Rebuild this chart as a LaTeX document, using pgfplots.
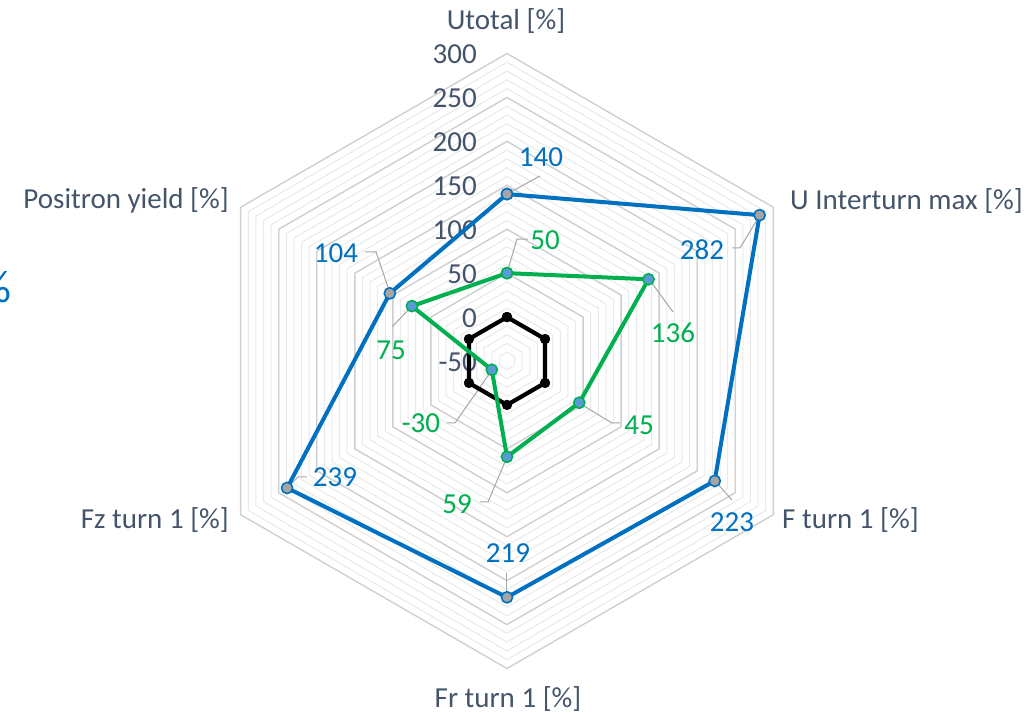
\documentclass[border=0pt]{standalone}
\usepackage{pgfplots}
\pgfplotsset{compat=1.18}
\usepackage{pgfplotstable}
\usepackage{fontspec}
\setmainfont{Carlito}
\definecolor{txt}{HTML}{44546A}
\definecolor{sblue}{HTML}{0070C0}
\definecolor{sgreen}{HTML}{00B050}
\definecolor{mgray}{HTML}{A5A5A5}
\definecolor{mblue}{HTML}{5B9BD5}
\definecolor{gmaj}{HTML}{D0D0D0}
\definecolor{gmin}{HTML}{E9E9E9}
\definecolor{lead}{HTML}{A6A6A6}
\newcommand\pp[2]{(axis cs:{(#1-507)/0.87857},{(361-#2)/0.87857})}

\pgfplotstableread{
a v
90 140
30 282
-30 223
-90 219
-150 239
150 104
90 140
}\tblue
\pgfplotstableread{
a v
90 50
30 136
-30 45
-90 59
-150 -30
150 75
90 50
}\tgreen
\pgfplotstableread{
a v
90 0
30 0
-30 0
-90 0
-150 0
150 0
90 0
}\tblack

\begin{document}
\begin{tikzpicture}
\useasboundingbox (0,0) rectangle (1031bp,715bp);
\begin{axis}[at={(0,0)},anchor=south west,hide axis,scale only axis,
  x=0.87857bp,y=0.87857bp,xmin=-577.07,xmax=596.35,ymin=-402.93,ymax=410.89,clip=false]
% minor rings
\pgfplotsinvokeforeach{10,20,...,340}{
  \draw[gmin,line width=1bp] (axis cs:0,#1) -- (axis cs:{0.866025*#1},{0.5*#1}) -- (axis cs:{0.866025*#1},{-0.5*#1}) -- (axis cs:0,-#1) -- (axis cs:{-0.866025*#1},{-0.5*#1}) -- (axis cs:{-0.866025*#1},{0.5*#1}) -- cycle;
}
% major rings
\pgfplotsinvokeforeach{50,100,...,350}{
  \draw[gmaj,line width=1.4bp] (axis cs:0,#1) -- (axis cs:{0.866025*#1},{0.5*#1}) -- (axis cs:{0.866025*#1},{-0.5*#1}) -- (axis cs:0,-#1) -- (axis cs:{-0.866025*#1},{-0.5*#1}) -- (axis cs:{-0.866025*#1},{0.5*#1}) -- cycle;
}
% tick labels
\pgfplotsinvokeforeach{-50,0,...,300}{
  \node[anchor=base east,inner sep=0pt,text=txt,font=\fontsize{29bp}{33bp}\selectfont] at (axis cs:-34.15,{#1+50-11.6}) {#1};
}
% leader lines
\draw[lead,line width=1bp] \pp{507}{194} -- \pp{540}{176};
\draw[lead,line width=1bp] \pp{760}{215} -- \pp{740}{248} -- \pp{732}{248};
\draw[lead,line width=1bp] \pp{715}{481} -- \pp{732}{500};
\draw[lead,line width=1bp] \pp{507}{597} -- \pp{507}{573};
\draw[lead,line width=1bp] \pp{287}{488} -- \pp{298}{477} -- \pp{307}{477};
\draw[lead,line width=1bp] \pp{390}{293} -- \pp{376}{252} -- \pp{365}{252};
\draw[lead,line width=1bp] \pp{507}{273} -- \pp{517}{239} -- \pp{528}{239};
\draw[lead,line width=1bp] \pp{649}{279} -- \pp{673}{312};
\draw[lead,line width=1bp] \pp{579}{403} -- \pp{612}{423} -- \pp{620}{423};
\draw[lead,line width=1bp] \pp{507}{457} -- \pp{488}{502} -- \pp{480}{502};
\draw[lead,line width=1bp] \pp{412}{306} -- \pp{392}{327};
\draw[lead,line width=1bp] \pp{492}{370} -- \pp{455}{423} -- \pp{447}{423};
% series
\addplot[black,line width=4.2bp,line join=round,mark=*,mark size=4.9bp,
  mark options={fill=black,draw=black,line width=0.5bp}]
  table[x expr={(\thisrow{v}+50)*cos(\thisrow{a})},y expr={(\thisrow{v}+50)*sin(\thisrow{a})}] {\tblack};
\addplot[sgreen,line width=4bp,line join=round,mark=*,mark size=5.6bp,
  mark options={fill=mblue,draw=sgreen,line width=1.6bp}]
  table[x expr={(\thisrow{v}+50)*cos(\thisrow{a})},y expr={(\thisrow{v}+50)*sin(\thisrow{a})}] {\tgreen};
\addplot[sblue,line width=4bp,line join=round,mark=*,mark size=5.6bp,
  mark options={fill=mgray,draw=sblue,line width=1.6bp}]
  table[x expr={(\thisrow{v}+50)*cos(\thisrow{a})},y expr={(\thisrow{v}+50)*sin(\thisrow{a})}] {\tblue};
\end{axis}
\begin{scope}[x=1bp,y=-1bp,yshift=715bp,every node/.style={inner sep=0pt,font=\fontsize{29bp}{33bp}\selectfont}]
% category labels
\node[anchor=base,text=txt] at (506,30) {Utotal [\%]};
\node[anchor=base west,text=txt] at (790,210) {U Interturn max [\%]};
\node[anchor=base west,text=txt] at (782,529) {F turn 1 [\%]};
\node[anchor=base,text=txt] at (508,708) {Fr turn 1 [\%]};
\node[anchor=base east,text=txt] at (229,529) {Fz turn 1 [\%]};
\node[anchor=base east,text=txt] at (229,209) {Positron yield [\%]};
% data labels blue
\node[text=sblue] at (541,157) {140};
\node[text=sblue] at (702,250) {282};
\node[text=sblue] at (732,522) {223};
\node[text=sblue] at (508,553) {219};
\node[text=sblue] at (335,477) {239};
\node[text=sblue] at (336,253) {104};
% data labels green
\node[text=sgreen] at (545,240) {50};
\node[text=sgreen] at (673,333) {136};
\node[text=sgreen] at (639,425) {45};
\node[text=sgreen] at (457,504) {59};
\node[text=sgreen] at (391,350) {75};
\node[text=sgreen] at (421,423) {-30};
% cut-off text at left edge
\node[anchor=base east,text=sblue,font=\fontsize{46bp}{52bp}\selectfont] at (12,303) {\%};
\end{scope}
\end{tikzpicture}
\end{document}
